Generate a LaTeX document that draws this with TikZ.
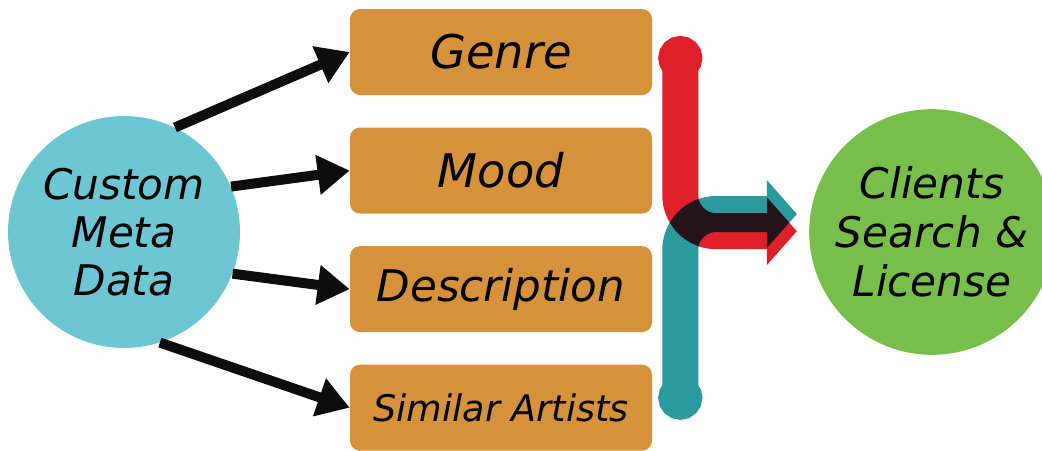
\documentclass[tikz,border=0pt]{standalone}
\usepackage{fontspec}
\setmainfont{DejaVu Sans}
\usetikzlibrary{arrows.meta, positioning}

\definecolor{metacyan}{HTML}{6CC7D2}
\definecolor{clientgreen}{HTML}{78BE4A}
\definecolor{wood}{HTML}{D6923A}
\definecolor{flowred}{HTML}{E02028}
\definecolor{flowteal}{HTML}{2A9A9E}

\begin{document}
\begin{tikzpicture}[
        node distance=0.8cm,
        box/.style={rectangle, fill=wood, rounded corners=0.25cm, minimum width=7.55cm, minimum height=2.15cm, align=center, font=\fontsize{33}{36}\selectfont\itshape},
        hub/.style={circle, minimum size=5.85cm, align=center, font=\fontsize{30}{34}\selectfont\itshape},
        feed/.style={line width=0.25cm, -{Triangle[length=0.8cm, width=0.95cm]}, black!95},
        flow/.style={line width=0.9cm, rounded corners=0.9cm, {Circle[length=1.1cm]}-{Triangle[length=0.75cm, width=1.65cm]}}
    ]
        \useasboundingbox (0,0) rectangle (26.05,-11.25);

        \node[hub, fill=metacyan, minimum size=5.8cm] (meta) at (3.1,-5.8) {Custom\\Meta\\Data};
        \node[hub, fill=clientgreen, font=\fontsize{30}{35}\selectfont\itshape] (clients) at (23.3,-5.8) {Clients\\Search \&\\License};

        \node[box] (genre) at (12.525,-1.3) {Genre};
        \node[box, below=of genre] (mood) {Mood};
        \node[box, below=of mood, font=\fontsize{31}{34}\selectfont\itshape] (descr) {Description};
        \node[box, below=of descr, font=\fontsize{26}{30}\selectfont\itshape] (similar) {Similar Artists};

        \draw[feed] (meta.64) -- (genre.west);
        \draw[feed] (meta.23) -- (mood.west);
        \draw[feed] (meta.-21) -- (descr.west);
        \draw[feed] (meta.-72) -- (similar.west);

        % ends of the two merging flows
        \coordinate[right=0.7cm of genre.east, yshift=0.4cm] (redstart);
        \coordinate[right=0.7cm of similar.east, yshift=-0.3cm] (tealstart);
        \coordinate[left=0.3cm of clients.west, yshift=0.02cm] (redtip);
        \coordinate[left=0.3cm of clients.west, yshift=0.45cm] (tealtip);

        \draw[flow, flowred] (redstart) |- (redtip);
        \begin{scope}[blend mode=multiply]
            \begin{scope}[transparency group]
                \draw[flow, flowteal] (tealstart) |- (tealtip);
            \end{scope}
        \end{scope}
    \end{tikzpicture}
\end{document}
